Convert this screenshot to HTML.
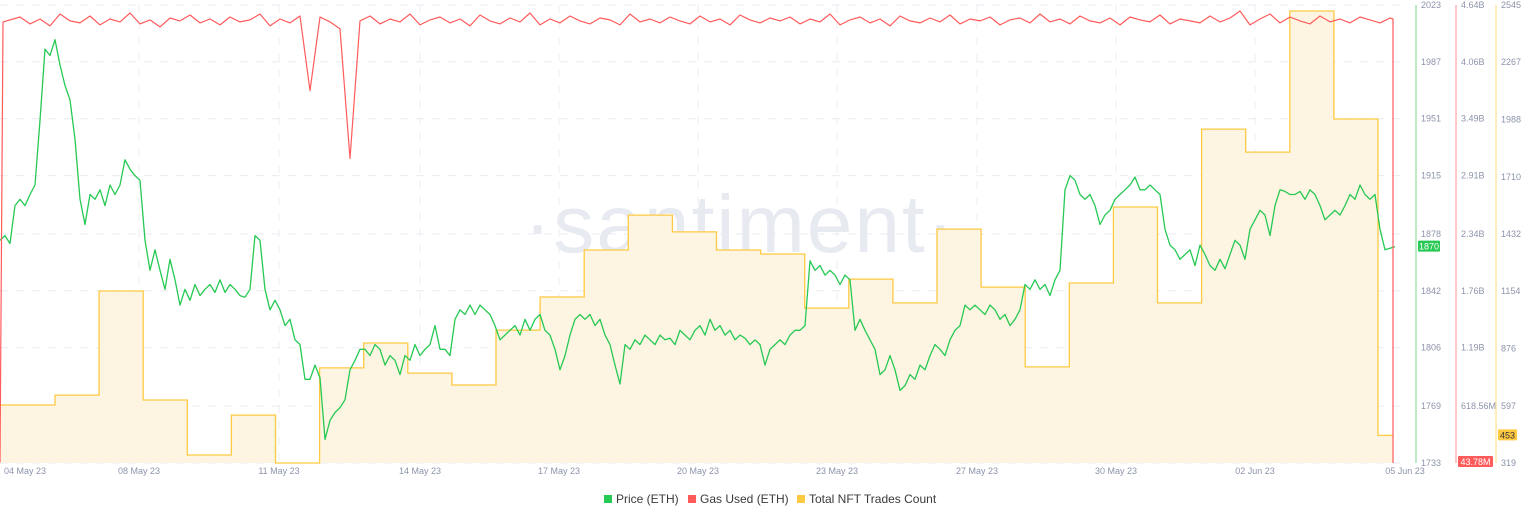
<!DOCTYPE html>
<html><head><meta charset="utf-8"><style>
body{margin:0;background:#fff;width:1536px;height:520px;overflow:hidden;font-family:"Liberation Sans",sans-serif}
svg text{font-family:"Liberation Sans",sans-serif}
</style></head><body>
<svg id="chart" width="1536" height="520" xmlns="http://www.w3.org/2000/svg">
<text x="740" y="252" font-size="82" fill="#e8eaf2" text-anchor="middle" letter-spacing="2">·santiment·</text>
<g id="grid"></g>
<g id="nft"></g>
<g id="price"></g>
<g id="gas"></g>
<g id="axes"></g>
<g font-size="12" fill="#3a3a3a">
<g><rect x="604" y="495" width="8" height="8" fill="#26c953"/><text x="616" y="503">Price (ETH)</text></g>
<g><rect x="688" y="495" width="8" height="8" fill="#ff5b5b"/><text x="700" y="503">Gas Used (ETH)</text></g>
<g><rect x="797" y="495" width="8" height="8" fill="#ffc942"/><text x="809" y="503">Total NFT Trades Count</text></g>
</g>
</svg>
<script>
const priceTicks=[1733,1769,1806,1842,1878,1915,1951,1987,2023];
const gasTickLabels=["43.78M","618.56M","1.19B","1.76B","2.34B","2.91B","3.49B","4.06B","4.64B"];
const nftTicks=[319,597,876,1154,1432,1710,1988,2267,2545];
const dateLabels=["04 May 23","08 May 23","11 May 23","14 May 23","17 May 23","20 May 23","23 May 23","27 May 23","30 May 23","02 Jun 23","05 Jun 23"];
const dateSlots=[4.4,27.8,55.8,84,111.8,139.6,167.4,195.4,223.2,251,281];
const priceValues=[1874,1877,1872,1896,1900,1896,1903,1909,1950,1995,1991,2001,1985,1972,1963,1938,1900,1884,1903,1900,1906,1896,1909,1903,1909,1925,1919,1915,1912,1874,1855,1868,1855,1843,1862,1849,1833,1843,1836,1846,1839,1843,1846,1841,1849,1841,1846,1843,1839,1838,1843,1877,1874,1843,1830,1836,1830,1820,1824,1811,1808,1786,1786,1795,1787,1748,1760,1765,1768,1773,1792,1798,1805,1805,1801,1808,1805,1795,1801,1798,1789,1801,1798,1808,1801,1805,1808,1820,1805,1805,1801,1824,1830,1827,1833,1827,1833,1830,1827,1820,1811,1814,1817,1820,1814,1824,1817,1824,1827,1817,1814,1805,1792,1801,1814,1824,1827,1824,1827,1820,1824,1814,1808,1795,1783,1808,1805,1811,1808,1814,1811,1808,1814,1811,1812,1808,1817,1814,1811,1817,1820,1814,1824,1817,1820,1814,1817,1811,1814,1812,1808,1811,1808,1795,1805,1808,1811,1808,1814,1817,1817,1820,1861,1855,1858,1852,1855,1852,1846,1852,1849,1817,1824,1817,1811,1805,1789,1792,1801,1792,1779,1782,1789,1786,1795,1792,1801,1808,1805,1801,1811,1817,1820,1833,1830,1833,1830,1827,1833,1830,1824,1827,1820,1824,1830,1846,1843,1849,1843,1846,1839,1849,1855,1906,1915,1912,1903,1900,1903,1896,1884,1890,1893,1900,1903,1906,1909,1914,1906,1906,1909,1906,1903,1881,1871,1868,1862,1865,1868,1858,1871,1865,1858,1855,1862,1856,1865,1874,1871,1862,1881,1887,1893,1890,1877,1896,1906,1905,1903,1903,1905,1900,1906,1903,1896,1887,1890,1893,1890,1896,1903,1900,1909,1903,1900,1903,1881,1868,1869,1870];
const gasValues=[0.05,4.47,4.52,4.45,4.50,4.43,4.55,4.48,4.46,4.53,4.44,4.50,4.47,4.56,4.45,4.49,4.42,4.51,4.48,4.54,4.46,4.50,4.44,4.52,4.47,4.49,4.55,4.43,4.50,4.46,4.53,3.78,4.52,4.47,4.40,3.10,4.48,4.53,4.45,4.50,4.47,4.55,4.44,4.49,4.52,4.46,4.50,4.43,4.54,4.48,4.45,4.51,4.47,4.56,4.44,4.50,4.46,4.53,4.48,4.45,4.51,4.49,4.44,4.55,4.47,4.50,4.46,4.52,4.48,4.45,4.53,4.47,4.50,4.44,4.54,4.49,4.46,4.51,4.48,4.52,4.45,4.50,4.47,4.55,4.44,4.49,4.52,4.46,4.50,4.43,4.53,4.48,4.46,4.51,4.47,4.54,4.45,4.50,4.48,4.52,4.44,4.49,4.51,4.46,4.55,4.47,4.50,4.45,4.53,4.48,4.46,4.51,4.44,4.52,4.49,4.47,4.54,4.45,4.50,4.48,4.46,4.53,4.47,4.51,4.58,4.44,4.50,4.55,4.46,4.52,4.48,4.45,4.53,4.47,4.50,4.46,4.52,4.49,4.46,4.51,4.47,4.50];
const nftValues=[601,649,1155,625,358,552,319,781,902,756,698,965,1126,1354,1524,1442,1354,1335,1072,1213,1097,1456,1174,786,1194,1563,1097,1942,1830,2516,1991,453];
const nftFirstEnd=11, nftSlotWidth=8.82, endSlot=278.6;
const NS="http://www.w3.org/2000/svg";
const X0=0,SLOT=5,TOP=5,BOT=463;
const x=s=>X0+s*SLOT;
const yP=v=>BOT-(v-1733)/(2023-1733)*(BOT-TOP);
const yG=v=>BOT-(v-0.04378)/(4.64-0.04378)*(BOT-TOP);
const yN=v=>BOT-(v-319)/(2545-319)*(BOT-TOP);
function mk(tag,attrs,parent){const e=document.createElementNS(NS,tag);for(const k in attrs)e.setAttribute(k,attrs[k]);parent.appendChild(e);return e;}
const grid=document.getElementById('grid');
priceTicks.forEach(t=>{const l=mk('line',{x1:0,x2:1400,y1:yP(t),y2:yP(t),stroke:'#e9ebf1','stroke-dasharray':'8 8'},grid);

});
dateSlots.slice(1,10).forEach(s=>{const l=mk('line',{x1:x(s),x2:x(s),y1:TOP,y2:BOT,stroke:'#eceef3','stroke-dasharray':'8 8'},grid);

});
const nftG=document.getElementById('nft');
let pts=[];
nftValues.forEach((v,i)=>{const s0=i===0?0:nftFirstEnd+(i-1)*nftSlotWidth;const s1=i===nftValues.length-1?endSlot:nftFirstEnd+i*nftSlotWidth;pts.push([x(s0),yN(v)],[x(s1),yN(v)]);});
const lastX=pts[pts.length-1][0];
const area=mk('path',{d:'M0,'+BOT+' L'+pts.map(p=>p[0].toFixed(1)+','+p[1].toFixed(1)).join(' L')+' L'+lastX+','+BOT+' Z',fill:'#fdf5e2',stroke:'none'},nftG);


const nl=mk('path',{d:'M'+pts.map(p=>p[0].toFixed(1)+','+p[1].toFixed(1)).join(' L'),fill:'none',stroke:'#ffc942','stroke-width':1.3},nftG);


const pl=mk('path',{d:'M'+priceValues.map((v,i)=>x(i).toFixed(1)+','+yP(v).toFixed(1)).join(' L'),fill:'none',stroke:'#26c953','stroke-width':1.3,'stroke-linejoin':'round'},document.getElementById('price'));


const gpts=[];
gasValues.forEach((v,i)=>{const s=i===1?0.6:i*2;if(s<endSlot)gpts.push([x(s),yG(v)]);});
gpts.push([x(endSlot),yG(gasValues[gasValues.length-1])]);
gpts.push([x(endSlot),yG(0.04378)]);
const gl=mk('path',{d:'M'+gpts.map(p=>p[0].toFixed(1)+','+p[1].toFixed(1)).join(' L'),fill:'none',stroke:'#ff5b5b','stroke-width':1.2,'stroke-linejoin':'round'},document.getElementById('gas'));


const ax=document.getElementById('axes');
[[1416,'#a8e4b3'],[1456,'#ffb5b5'],[1496,'#ffe6a6']].forEach(a=>{const l=mk('line',{x1:a[0],x2:a[0],y1:TOP,y2:BOT,stroke:a[1],'stroke-width':1.5},ax);

});
function lab(tx,xx,yy,anchor){const t=mk('text',{x:xx,y:yy,'font-size':9,fill:'#8d94ab','text-anchor':anchor||'start'},ax);t.textContent=tx;

}
priceTicks.forEach(t=>lab(t,1421,yP(t)+3));
gasTickLabels.forEach((t,i)=>lab(t,1461,yP(priceTicks[i])+3));
nftTicks.forEach(t=>lab(t,1501,yN(t)+3));
dateLabels.forEach((d,i)=>lab(d,i===0?4:x(dateSlots[i]),474,i===0?'start':'middle'));
function badge(txt,bx,by,w,bg,fg,name){const g=mk('g',{},ax);


mk('rect',{x:bx,y:by-6,width:w,height:11,fill:bg,rx:1},g);const t=mk('text',{x:bx+w/2,y:by+3,'font-size':9,fill:fg,'text-anchor':'middle'},g);t.textContent=txt;}
badge(String(priceValues[priceValues.length-1]),1418,yP(priceValues[priceValues.length-1]),22,'#26c953','#fff','price-badge');
badge('43.78M',1458,yG(0.04378)-1,35,'#ff5b5b','#fff','gas-badge');
badge(String(nftValues[nftValues.length-1]),1498,yN(nftValues[nftValues.length-1]),19,'#ffc942','#333','nft-badge');
</script>
</body></html>
